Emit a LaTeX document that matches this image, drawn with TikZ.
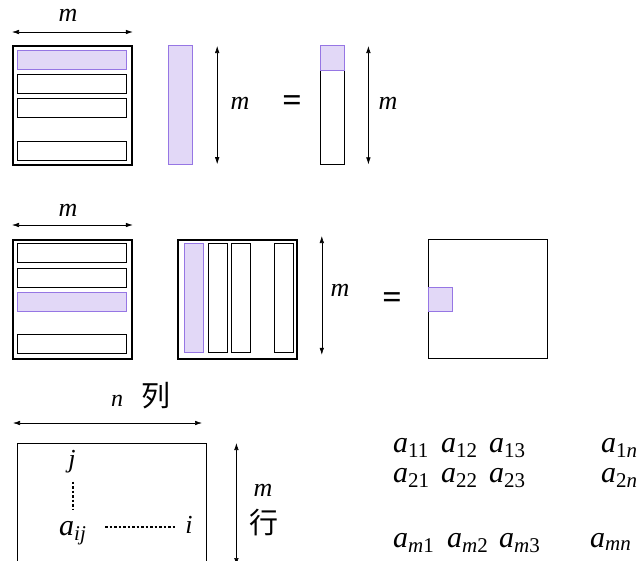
\documentclass[tikz,border=0pt]{standalone}
\usepackage{fontspec}
\setmainfont{Liberation Serif}
\newfontfamily\cjk{Noto Sans CJK SC}
\usepackage{tikz}
\usetikzlibrary{calc, arrows.meta}
\definecolor{hilite}{RGB}{226,216,247}
\definecolor{hiedge}{RGB}{150,118,228}
\newcommand{\el}[1]{\textit{a}\textsubscript{#1}}

\begin{document}
\begin{tikzpicture}[
  x=1pt, y=-1pt,
  >={Latex[length=7pt,width=4.5pt]},
  every node/.style={inner sep=0pt},
  label/.style={font=\fontsize{26}{30}\selectfont\itshape},
  hanzi/.style={font=\fontsize{29}{32}\selectfont\cjk},
  equal/.style={font=\fontsize{34}{36}\selectfont\bfseries},
  elem/.style={font=\fontsize{30}{34}\selectfont, anchor=base west},
  matbox/.style={draw, line width=1.8pt, anchor=north west, minimum width=119pt, minimum height=119pt},
  rowbox/.style={draw, line width=0.9pt, minimum width=109pt, minimum height=19pt},
  colbox/.style={draw, line width=0.9pt, minimum width=19pt, minimum height=109pt},
  hi/.style={fill=hilite, draw=hiedge},
  dim/.style={<->, line width=0.6pt},
  dots/.style={line width=1.2pt, dash pattern=on 2.5pt off 2pt}
]
\useasboundingbox (0,0) rectangle (639,560);
% ---- row 1: row times vector
\node[matbox] (sqA) at (12,45) {};
\foreach \y/\s in {59.5/hi, 83.5/, 107.5/, 150.5/}
  \node[rowbox, \s] at (71.5,\y) {};
\node[label] (mA) at (68,15) {m};
\draw[dim] ([yshift=13pt]sqA.north west) -- ([yshift=13pt]sqA.north east);
\node[draw=hiedge, fill=hilite, line width=1.2pt, anchor=north west,
      minimum width=24pt, minimum height=119pt] (vecB) at (168,45) {};
\draw[dim] ([xshift=24pt,yshift=-1pt]vecB.north east) -- ([xshift=24pt,yshift=1pt]vecB.south east);
\node[label] (mB) at (240,103) {m};
\node[equal] (eqA) at (292,104) {=};
\node[draw, line width=1.4pt, anchor=north west, minimum width=24pt, minimum height=119pt] (vecC) at (320,45) {};
\node[hi, line width=1.2pt, anchor=north west, minimum width=24pt, minimum height=25pt] (cellC) at (320,45) {};
\draw[dim] ([xshift=23pt,yshift=-1pt]vecC.north east) -- ([xshift=23pt,yshift=1pt]vecC.south east);
\node[label] (mC) at (388,103) {m};
% ---- row 2: matrix times matrix
\node[matbox] (sqD) at (12,239) {};
\foreach \y/\s in {253/, 277.5/, 301.5/hi, 343.5/}
  \node[rowbox, \s] at (71.5,\y) {};
\node[label] (mD) at (68,210) {m};
\draw[dim] ([yshift=14pt]sqD.north west) -- ([yshift=14pt]sqD.north east);
\node[matbox] (sqE) at (177,239) {};
\foreach \x/\s in {193.5/hi, 217.5/, 241/, 283.5/}
  \node[colbox, \s] at (\x,297.5) {};
\draw[dim] ([xshift=24pt,yshift=3pt]sqE.north east) -- ([xshift=24pt,yshift=5pt]sqE.south east);
\node[label] (mE) at (340,290) {m};
\node[equal] (eqB) at (392,301) {=};
\node[draw, line width=1.4pt, anchor=north west, minimum width=119pt, minimum height=119pt] (sqF) at (428,239) {};
\node[hi, line width=1.2pt, anchor=north west, minimum width=24pt, minimum height=24pt] (cellF) at (428,287) {};
% ---- row 3: general m x n matrix
\node[label, font=\fontsize{24}{28}\selectfont\itshape] (nG) at (117,401) {n};
\node[hanzi] (colG) at (156,396) {列};
\draw[dim] (13,423) -- (202,423);
\node[draw, line width=1.4pt, anchor=north west, minimum width=189pt, minimum height=130pt] (sqG) at (17,443) {};
\node[label] (jG) at (72,462) {j};
\node[elem] (aG) at (59,535) {\el{\textit{ij}}};
\node[label] (iG) at (189,525) {i};
\draw[dots] ($(jG.south)+(1,8)$) -- ($(jG.south)+(1,36)$);
\draw[dots] (105,527) -- ([xshift=-10pt,yshift=-2pt]iG.west);
\draw[dim] ($(sqG.north east)+(29,0)$) -- ($(sqG.north east)+(29,122)$);
\node[label] (mG) at (263,490) {m};
\node[hanzi] (rowG) at (264,522) {行};
% ---- elements
\foreach \x/\c in {393/1, 441/2, 489/3}{
  \node[elem] at (\x,452) {\el{1\c}};
  \node[elem] at (\x,482) {\el{2\c}};
}
\node[elem] (a1n) at (601,452) {\el{1\textit{n}}};
\node[elem] (a2n) at (601,482) {\el{2\textit{n}}};
\foreach \x/\c in {393/1, 447/2, 499/3}
  \node[elem] at (\x,547) {\el{\textit{m}\c}};
\node[elem] (amn) at (590,547) {\el{\textit{mn}}};
\end{tikzpicture}
\end{document}
